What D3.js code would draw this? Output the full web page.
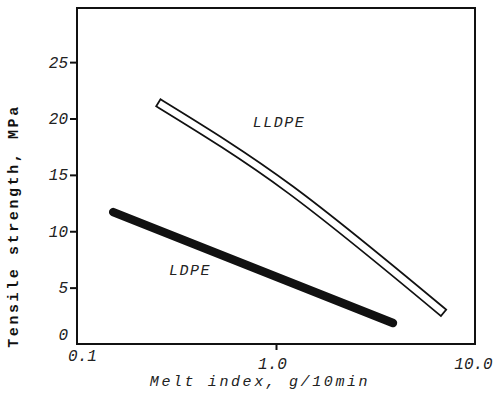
<!DOCTYPE html>
<html><head><meta charset="utf-8">
<script src="https://cdn.jsdelivr.net/npm/d3@7"></script>
<style>body{margin:0;background:#fff}svg{display:block}</style>
</head><body>
<script>
// Data (melt index g/10min, tensile strength MPa)
const lldpeMI = [0.267, 1.18, 6.7];
const lldpeTS = [21.2, 13.7, 3.0];
const ldpeMI = [0.152, 3.87];
const ldpeTS = [11.7, 1.86];
const yTicks = [0, 5, 10, 15, 20, 25];
const xTicks = [0.1, 1.0, 10.0];
const xTickLabels = ["0.1", "1.0", "10.0"];
const seriesNames = ["LLDPE", "LDPE"];

const W = 495, H = 408;
const L = 77, R = 475, T = 8, B = 344;
const svg = d3.select("body").append("svg").attr("width", W).attr("height", H);

const x = d3.scaleLog().domain([0.1, 10]).range([L, R]);
const y = d3.scaleLinear().domain([0, 29.8]).range([B, T]);
const mono = "'Liberation Mono','DejaVu Sans Mono',monospace";

// frame
svg.append("rect").attr("x", L).attr("y", T).attr("width", R - L).attr("height", B - T)
  .attr("fill", "none").attr("stroke", "#111").attr("stroke-width", 2);

// y axis
const yAxis = d3.axisLeft(y).tickValues(yTicks).tickSize(7).tickPadding(2).tickFormat(d3.format("d"));
const ga = svg.append("g").attr("transform", `translate(${L},0)`).call(yAxis);
ga.select(".domain").remove();
ga.selectAll(".tick line").attr("stroke", "#111").attr("stroke-width", 2)
  .attr("opacity", d => d === 0 ? 0 : 1);
ga.selectAll(".tick text").attr("font-family", mono).attr("font-style", "italic")
  .attr("font-size", 16).attr("fill", "#222")
  .attr("dy", d => d === 0 ? "-0.3em" : "0.32em");

// x axis
const xAxis = d3.axisBottom(x).tickValues(xTicks).tickSize(6).tickPadding(4)
  .tickFormat((d, i) => xTickLabels[i]);
const gx = svg.append("g").attr("transform", `translate(0,${B})`).call(xAxis);
gx.select(".domain").remove();
gx.selectAll(".tick line").attr("stroke", "#111").attr("stroke-width", 2)
  .attr("opacity", d => d === 1 ? 1 : 0);
gx.selectAll(".tick text").attr("font-family", mono).attr("font-style", "italic")
  .attr("font-size", 16).attr("fill", "#222")
  .attr("dy", d => d === 0.1 ? "0.45em" : "0.95em")
  .attr("dx", d => d === 1 ? "-4" : (d === 0.1 ? "5" : "-2"));

// titles
svg.append("text").attr("x", 260).attr("y", 386).attr("text-anchor", "middle")
  .attr("font-family", mono).attr("font-style", "italic").attr("font-size", 15)
  .attr("letter-spacing", 2.6).attr("fill", "#222").text("Melt index, g/10min");
svg.append("text").attr("transform", "translate(18,226) rotate(-90)").attr("text-anchor", "middle")
  .attr("font-family", mono).attr("font-weight", "bold").attr("font-size", 15)
  .attr("letter-spacing", 2.6).attr("fill", "#111").text("Tensile strength, MPa");

// lines
const line = d3.line().x(d => x(d[0])).y(d => y(d[1])).curve(d3.curveNatural);
const lldpe = lldpeMI.map((m, i) => [m, lldpeTS[i]]);
const ldpe = ldpeMI.map((m, i) => [m, ldpeTS[i]]);

svg.append("path").attr("d", line(lldpe)).attr("fill", "none").attr("stroke", "#111")
  .attr("stroke-width", 10).attr("stroke-linecap", "square");
svg.append("path").attr("d", line(lldpe)).attr("fill", "none").attr("stroke", "#fff")
  .attr("stroke-width", 6.5).attr("stroke-linecap", "square");

svg.append("path").attr("d", line(ldpe)).attr("fill", "none").attr("stroke", "#111")
  .attr("stroke-width", 8.5).attr("stroke-linecap", "round");

// labels
svg.append("text").attr("x", 279).attr("y", 127).attr("text-anchor", "middle")
  .attr("font-family", mono).attr("font-style", "italic").attr("font-size", 15)
  .attr("letter-spacing", 1.5).attr("fill", "#222").text(seriesNames[0]);
svg.append("text").attr("x", 190).attr("y", 275).attr("text-anchor", "middle")
  .attr("font-family", mono).attr("font-style", "italic").attr("font-size", 15)
  .attr("letter-spacing", 1.5).attr("fill", "#222").text(seriesNames[1]);
</script>
</body></html>
